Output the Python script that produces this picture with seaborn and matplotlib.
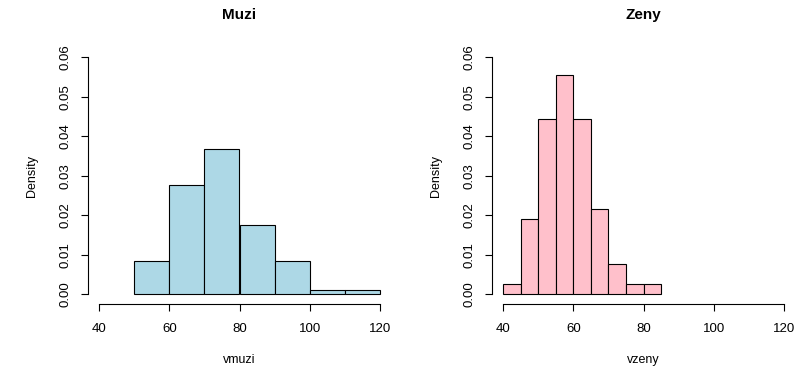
import matplotlib
matplotlib.use("Agg")
import matplotlib.pyplot as plt
import seaborn as sns
import numpy as np

# Data (densities)
muzi_edges = [50, 60, 70, 80, 90, 100, 110, 120]
muzi_density = [0.00826, 0.02752, 0.03670, 0.01743, 0.00826, 0.00092, 0.00092]

zeny_edges = [40, 45, 50, 55, 60, 65, 70, 75, 80, 85]
zeny_density = [0.00263, 0.01900, 0.04430, 0.05560, 0.04430, 0.02150, 0.00760, 0.00263, 0.00263]

titles = ["Muzi", "Zeny"]
xlabels = ["vmuzi", "vzeny"]
ylabel = "Density"
colors = ["#ADD8E6", "#FFC0CB"]
xticks = [40, 60, 80, 100, 120]
yticks = [0.00, 0.01, 0.02, 0.03, 0.04, 0.05, 0.06]

sns.set_style("white")
plt.rcParams['font.family'] = ['Liberation Sans', 'DejaVu Sans']
plt.rcParams['text.color'] = 'black'
plt.rcParams['axes.labelcolor'] = 'black'
plt.rcParams['xtick.color'] = 'black'
plt.rcParams['ytick.color'] = 'black'

W, H = 807, 370
fig = plt.figure(figsize=(W / 100, H / 100), dpi=100)

panels = [
    (muzi_edges, muzi_density, 87.8, 391.2),
    (zeny_edges, zeny_density, 491.8, 795.2),
]
top_px, bot_px = 47.8, 303.5

for i, (edges, dens, lpx, rpx) in enumerate(panels):
    ax = fig.add_axes([lpx / W, 1 - bot_px / H, (rpx - lpx) / W, (bot_px - top_px) / H])
    centers = [(a + b) / 2 for a, b in zip(edges[:-1], edges[1:])]
    sns.histplot(x=centers, weights=dens, bins=edges, ax=ax, color=colors[i],
                 edgecolor="black", linewidth=0.8, alpha=1)
    ax.set_xlim(36.8, 123.2)
    ax.set_ylim(-0.0024, 0.0624)
    ax.set_xticks(xticks)
    ax.set_yticks(yticks)
    ax.set_xticklabels([str(t) for t in xticks], fontsize=9.5, color="black")
    ax.set_yticklabels([f"{t:.2f}" for t in yticks], fontsize=9.5, rotation=90,
                       va="center", color="black")
    for s in ["top", "right"]:
        ax.spines[s].set_visible(False)
    for s in ["left", "bottom"]:
        ax.spines[s].set_color("black")
        ax.spines[s].set_linewidth(0.8)
    ax.spines["left"].set_bounds(0, 0.06)
    ax.spines["bottom"].set_bounds(40, 120)
    ax.tick_params(axis="both", which="major", direction="out", length=5, width=0.8,
                   color="black", labelcolor="black", bottom=True, left=True)
    ax.tick_params(axis="x", pad=9)
    ax.tick_params(axis="y", pad=7)
    ax.set_xlabel("")
    ax.set_ylabel("")
    ax.grid(False)
    cx = (lpx + rpx) / 2
    fig.text(cx / W, 1 - 15 / H, titles[i], ha="center", va="center",
             fontsize=11, fontweight="bold", color="black")
    fig.text(cx / W, 1 - 360 / H, xlabels[i], ha="center", va="center", fontsize=9,
             color="black")
    fig.text((lpx - 56) / W, 1 - ((top_px + bot_px) / 2) / H, ylabel, ha="center",
             va="center", rotation=90, fontsize=9, color="black")

fig.savefig("out.png", dpi=100)
